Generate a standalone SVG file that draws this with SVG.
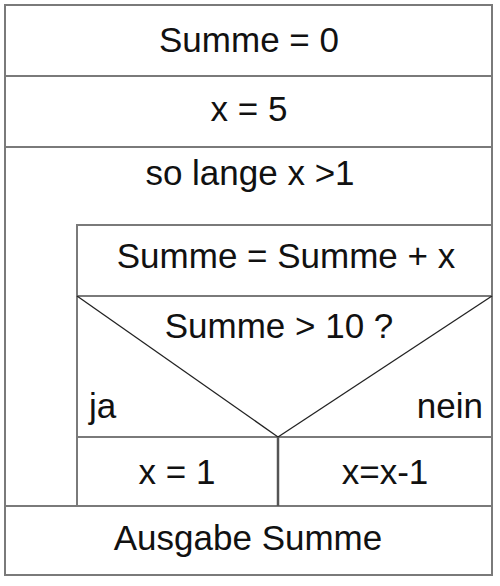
<svg xmlns="http://www.w3.org/2000/svg" width="500" height="586" viewBox="0 0 500 586">
<style>
  .box { fill: none; stroke: #7a7a7a; stroke-width: 2; }
  .diag { stroke: #222; stroke-width: 1.3; fill: none; }
  .t { font-family: "Liberation Sans", Arial, sans-serif; font-size: 35px; fill: #111; text-anchor: middle; }
</style>
<rect width="500" height="586" fill="#fff"/>
<g id="summe0">
  <rect class="box" x="5" y="5" width="487" height="71"/>
  <text class="t" x="249" y="52">Summe = 0</text>
</g>
<g id="x5">
  <rect class="box" x="5" y="76" width="487" height="71"/>
  <text class="t" x="249" y="121">x = 5</text>
</g>
<g id="loop">
  <path class="box" d="M5 147 H492 V225 H77 V506 H5 Z"/>
  <text class="t" x="250" y="185">so lange x &gt;1</text>
</g>
<g id="summeplus">
  <rect class="box" x="77" y="225" width="415" height="71"/>
  <text class="t" x="286" y="268">Summe = Summe + x</text>
</g>
<g id="decision">
  <rect class="box" x="77" y="296" width="415" height="141"/>
  <text class="t" x="279" y="338">Summe &gt; 10 ?</text>
  <text class="t" x="89" y="418" style="text-anchor:start">ja</text>
  <text class="t" x="483" y="418" style="text-anchor:end">nein</text>
</g>
<g id="x1">
  <rect class="box" x="77" y="437" width="201" height="69"/>
  <text class="t" x="177" y="484">x = 1</text>
</g>
<g id="xminus">
  <rect class="box" x="278" y="437" width="214" height="69"/>
  <text class="t" x="385" y="484">x=x-1</text>
</g>
<g id="ausgabe">
  <rect class="box" x="5" y="506" width="487" height="69"/>
  <text class="t" x="248" y="550">Ausgabe Summe</text>
</g>
<g id="connectors">
  <line class="diag" x1="77" y1="296" x2="278" y2="437"/>
  <line class="diag" x1="492" y1="296" x2="278" y2="437"/>
  <line x1="278" y1="437" x2="278" y2="506" stroke="#555" stroke-width="2.5"/>
</g>
</svg>
